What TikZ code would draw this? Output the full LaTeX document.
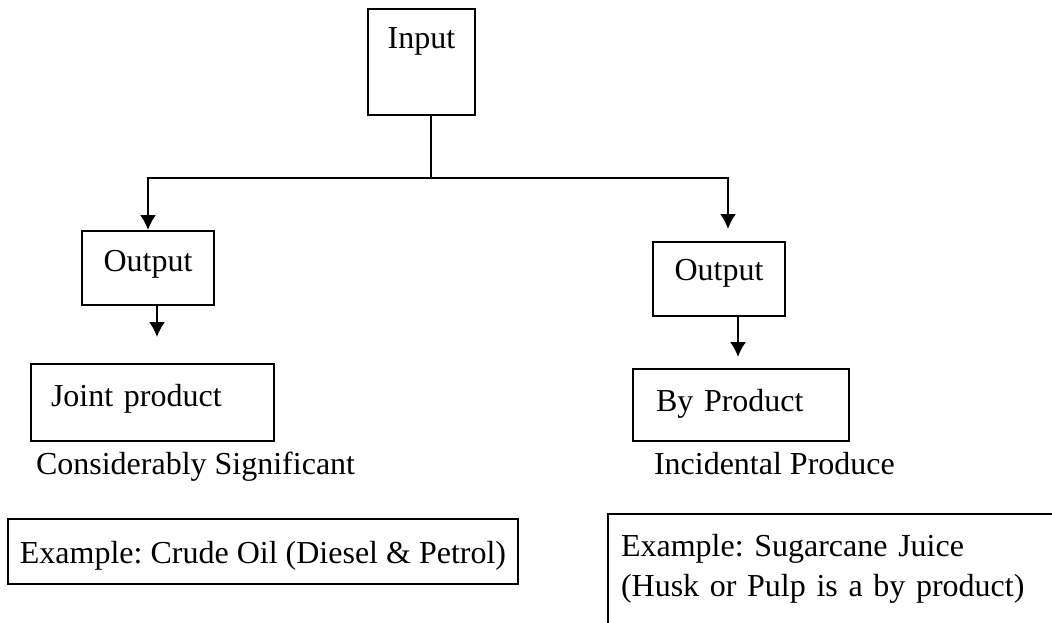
\documentclass[tikz,border=0pt]{standalone}
\usepackage{fontspec}
\setmainfont{Liberation Serif}
\frenchspacing
\usetikzlibrary{arrows.meta}
\tikzset{%
  >={Latex[length=6pt,width=6.4pt]},
  every node/.style={font=\fontsize{12.8pt}{16pt}\selectfont},
  box/.style={draw,line width=0.8pt,inner sep=0pt},
  leftbox/.style={box,align=left},
  plain/.style={inner sep=0pt,anchor=base west}%
}

\begin{document}
\begin{tikzpicture}[x=0.4pt,y=-0.4pt,line width=0.8pt]
\useasboundingbox (0,0) rectangle (1052,622);

\node[box,anchor=north,minimum width=42.8pt,text height=15.6pt,text depth=26.8pt] (inp) at (421.5,8) {Input};

\node[box,anchor=north,minimum width=52.8pt,text height=16pt,text depth=13.6pt] (outL) at (148,230) {Output};
\node[box,anchor=north,minimum width=52.8pt,text height=15.2pt,text depth=14.4pt] (outR) at (719,241) {Output};

\node[leftbox,anchor=north west,inner xsep=8pt,text width=81.2pt,text height=16.8pt,text depth=14pt] (joint) at (30,363) {Joint product};
\node[leftbox,anchor=north west,inner xsep=9.2pt,text width=68pt,text height=16.8pt,text depth=12pt] (byprod) at (632,368) {By Product};

\node[plain] (signif) at (35,474) {Considerably Significant};
\node[plain] (incid) at (653,474) {Incidental Produce};

\node[box,anchor=north west,minimum width=204pt,text height=17.6pt,text depth=8.4pt] (exL) at (7,518) {Example: Crude Oil (Diesel \& Petrol)};
\node[anchor=north west,inner xsep=4.8pt,inner ysep=0pt,align=left,text width=168pt,minimum height=43.2pt] (exR) at (608,514) {Example: Sugarcane Juice\\(Husk or Pulp is a by product)};
\draw (exR.south west) -- (exR.north west) -- (exR.north east);

% branching
\coordinate (split) at (431,178);
\coordinate (tipR) at (728,229);
\coordinate (tipJ) at (157,337);
\coordinate (tipB) at (738,357);
\draw (inp.south -| split) -- (split);
\draw[->] (split) -| (outL.north);
\draw[->] (split) -| (tipR);
\draw[->] (outL.south -| tipJ) -- (tipJ);
\draw[->] (outR.south -| tipB) -- (tipB);
\end{tikzpicture}
\end{document}
